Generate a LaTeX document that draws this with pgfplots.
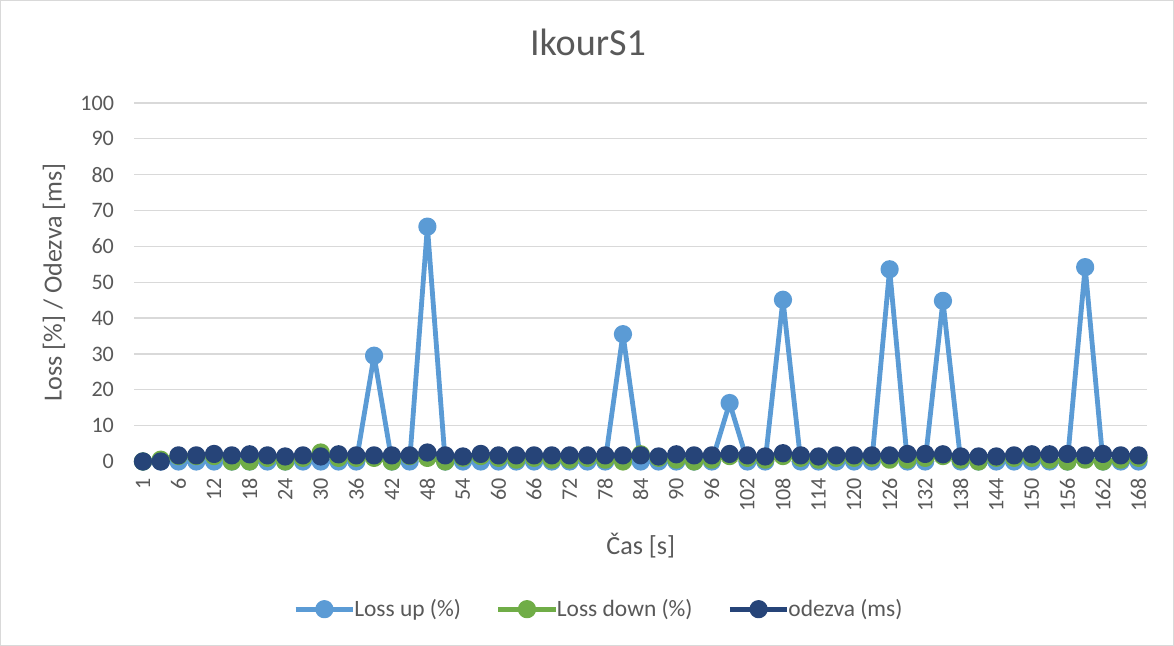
\documentclass[border=0pt]{standalone}
\usepackage{pgfplots}
\usepackage{pgfplotstable}
\pgfplotsset{compat=1.18}
\usepackage{fontspec}
\setmainfont{Carlito}
\definecolor{lup}{HTML}{5B9BD5}
\definecolor{ldown}{HTML}{70AD47}
\definecolor{odz}{HTML}{264478}
\definecolor{txt}{HTML}{595959}
\definecolor{grd}{HTML}{D9D9D9}
\pgfplotstableread{
i up down odezva
0 0 0 0
1 0 0.5 0
2 0 1.5 1.7
3 0 1.5 1.7
4 0 1.5 2.1
5 0 0 1.7
6 0 0 2.0
7 0 1 1.7
8 0 0 1.4
9 0 1 1.7
10 0 2.5 1.4
11 0 1 2.0
12 0 1 1.7
13 29.5 1 1.7
14 0 0 1.7
15 0 1.5 1.7
16 65.5 1 2.5
17 0 0 1.7
18 0 1 1.4
19 0 1.5 2.1
20 0 1 1.7
21 0 0.5 1.7
22 0 1 1.7
23 0 0.5 1.7
24 0 0.5 1.7
25 0 1 1.7
26 0 0.5 1.7
27 35.5 0 1.7
28 0 2 1.7
29 0 1 1.4
30 0 0.5 2.0
31 0 0 1.7
32 0 0.5 1.7
33 16.3 1.5 2.1
34 0 1 1.7
35 0 0.5 1.4
36 45.1 1.5 2.3
37 0 1 1.7
38 0 0.5 1.4
39 0 1 1.7
40 0 1 1.7
41 0 1 1.7
42 53.6 0.5 1.7
43 0 0.5 2.1
44 0 1 2.1
45 44.8 1.5 2.0
46 0 0.5 1.4
47 0 0 1.4
48 0 1 1.4
49 0 1 1.7
50 0 1 2.0
51 0 0.5 2.0
52 0 0 2.1
53 54.2 0.5 1.7
54 0 0 2.1
55 0 0.5 1.7
56 0 1 1.7
}\datatable
\begin{document}
\begin{tikzpicture}
\draw[grd,line width=0.75pt] (3pt,1.5pt) rectangle (879pt,483pt);
\begin{axis}[
  at={(102.75pt,138.75pt)}, anchor=south west,
  scale only axis,
  width=756.75pt, height=267.75pt,
  xmin=-0.5, xmax=56.5,
  ymin=0, ymax=100,
  ytick={0,10,...,100},
  xtick={0,2,...,56},
  xticklabels={1,6,12,18,24,30,36,42,48,54,60,66,72,78,84,90,96,102,108,114,120,126,132,138,144,150,156,162,168},
  axis line style={draw=none},
  major tick length=0,
  ymajorgrids, grid style={grd,line width=0.9pt},
  /pgf/number format/assume math mode=true,
  ticklabel style={font=\fontsize{16.5}{18}\selectfont, text=txt},
  xticklabel style={rotate=90, anchor=east, xshift=-9pt},
  yticklabel style={xshift=-11.5pt},
  title={IkourS1},
  title style={font=\fontsize{28.5}{32}\selectfont, text=txt, at={(axis description cs:0.448,1.146)}, anchor=center},
  xlabel={Čas [s]},
  ylabel={Loss [\%] / Odezva [ms]},
  label style={font=\fontsize{19.5}{22}\selectfont, text=txt},
  xlabel style={at={(axis description cs:0.5,-0.235)}, anchor=center},
  ylabel style={at={(axis description cs:-0.079,0.5)}, anchor=center},
  legend style={draw=none, font=\fontsize{17.5}{20}\selectfont, text=txt, at={(axis description cs:0.459,-0.412)}, anchor=center, legend columns=3, /tikz/every even column/.append style={column sep=24pt}, /tikz/every odd column/.append style={column sep=-3pt}},
  legend image code/.code={\draw[#1, mark repeat=2, mark phase=2] plot coordinates {(0pt,0pt) (21.5pt,0pt) (43pt,0pt)};},
  every axis plot/.append style={line width=3.6pt, line join=round, mark=*, mark size=5pt, mark options={solid}},
  clip=false,
]
\addplot[lup] table[x=i,y=up] {\datatable};
\addlegendentry{Loss up (\%)}
\addplot[ldown] table[x=i,y=down] {\datatable};
\addlegendentry{Loss down (\%)}
\addplot[odz] table[x=i,y=odezva] {\datatable};
\addlegendentry{odezva (ms)}
\end{axis}
\end{tikzpicture}
\end{document}
